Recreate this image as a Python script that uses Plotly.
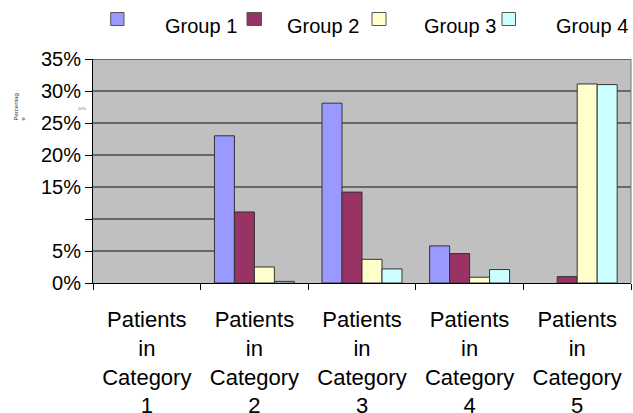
import plotly.graph_objects as go

# ---- data ----
categories = [
    "Patients<br>in<br>Category<br>1",
    "Patients<br>in<br>Category<br>2",
    "Patients<br>in<br>Category<br>3",
    "Patients<br>in<br>Category<br>4",
    "Patients<br>in<br>Category<br>5",
]
group_names = ["Group 1", "Group 2", "Group 3", "Group 4"]
group1 = [0, 23.0, 28.1, 5.8, 0]
group2 = [0, 11.1, 14.2, 4.6, 1.0]
group3 = [0, 2.5, 3.7, 0.9, 31.1]
group4 = [0, 0.25, 2.2, 2.1, 31.0]
ytick_vals = [0, 5, 10, 15, 20, 25, 30, 35]
ytick_text = ["0%", "5%", "", "15%", "20%", "25%", "30%", "35%"]
full_grid = [15, 25, 30, 35]
partial_grid = [5, 10, 20]

colors = ["#9999FF", "#993366", "#FFFFCC", "#CCFFFF"]
FONT = "Liberation Sans, Arial, sans-serif"

W, H = 633, 413
L, R, T, B = 93, 2, 59, 130
PW = W - L - R
PH = H - T - B


def px_x(px):
    return (px - L) / PW


def px_y(py):
    return (H - B - py) / PH


fig = go.Figure()
series = [group1, group2, group3, group4]
for name, vals, col in zip(group_names, series, colors):
    fig.add_trace(go.Bar(
        x=categories, y=vals, name=name,
        marker=dict(color=col,
                    line=dict(color="#333333", width=[1 if v > 0 else 0 for v in vals])),
        showlegend=False,
    ))

shapes = []
for v in full_grid:
    shapes.append(dict(type="line", xref="paper", yref="y", x0=0, x1=1, y0=v, y1=v,
                       line=dict(color="#111111", width=1), layer="below"))
for v in partial_grid:
    shapes.append(dict(type="line", xref="paper", yref="y", x0=0, x1=px_x(215), y0=v, y1=v,
                       line=dict(color="#111111", width=1), layer="below"))
# right border
shapes.append(dict(type="line", xref="paper", yref="paper", x0=1, x1=1, y0=0, y1=1,
                   line=dict(color="#777777", width=1), layer="below"))

# manual legend
legend_sq = [(110.7, 124), (247, 261.5), (372, 386), (502, 515.5)]
legend_tx = [163, 285, 422, 554]
annotations = []
for (x0, x1), tx, name, col in zip(legend_sq, legend_tx, group_names, colors):
    shapes.append(dict(type="rect", xref="paper", yref="paper",
                       x0=px_x(x0), x1=px_x(x1), y0=px_y(25.5), y1=px_y(12.5),
                       fillcolor=col, line=dict(color="#555555", width=1)))
    annotations.append(dict(text=name, xref="paper", yref="paper", x=px_x(tx), y=px_y(26),
                            xanchor="left", yanchor="middle", showarrow=False,
                            font=dict(family=FONT, size=20, color="black")))

annotations.append(dict(text="Percentag<br>e", xref="paper", yref="paper",
                        x=px_x(10), y=px_y(92), textangle=-90, align="left",
                        showarrow=False, font=dict(family=FONT, size=6, color="#333333")))
annotations.append(dict(text="10%", xref="paper", yref="paper",
                        x=px_x(76), y=px_y(104), showarrow=False,
                        font=dict(family=FONT, size=4, color="#666666")))

fig.update_layout(
    width=W, height=H,
    margin=dict(l=L, r=R, t=T, b=B, autoexpand=False),
    paper_bgcolor="white",
    plot_bgcolor="#C0C0C0",
    barmode="group",
    bargap=0.257,
    bargroupgap=0,
    font=dict(family=FONT, color="black"),
    shapes=shapes,
    annotations=annotations,
    xaxis=dict(
        automargin=False,
        showgrid=False, showline=True, linecolor="black", linewidth=1,
        ticks="outside", tickson="boundaries", ticklen=6, tickcolor="black",
        tickfont=dict(family=FONT, size=22, color="black"),
        ticklabelstandoff=17, tickangle=0,
    ),
    yaxis=dict(
        automargin=False,
        range=[0, 35], tickvals=ytick_vals, ticktext=ytick_text,
        showgrid=False, zeroline=False, showline=True, linecolor="black", linewidth=1,
        ticks="outside", ticklen=7, tickcolor="black",
        tickfont=dict(family=FONT, size=20, color="black"),
    ),
)

fig.write_html(
    "out.html",
    config={"displayModeBar": False},
    post_script="document.body.style.margin='0px';document.body.style.overflow='hidden';",
)
